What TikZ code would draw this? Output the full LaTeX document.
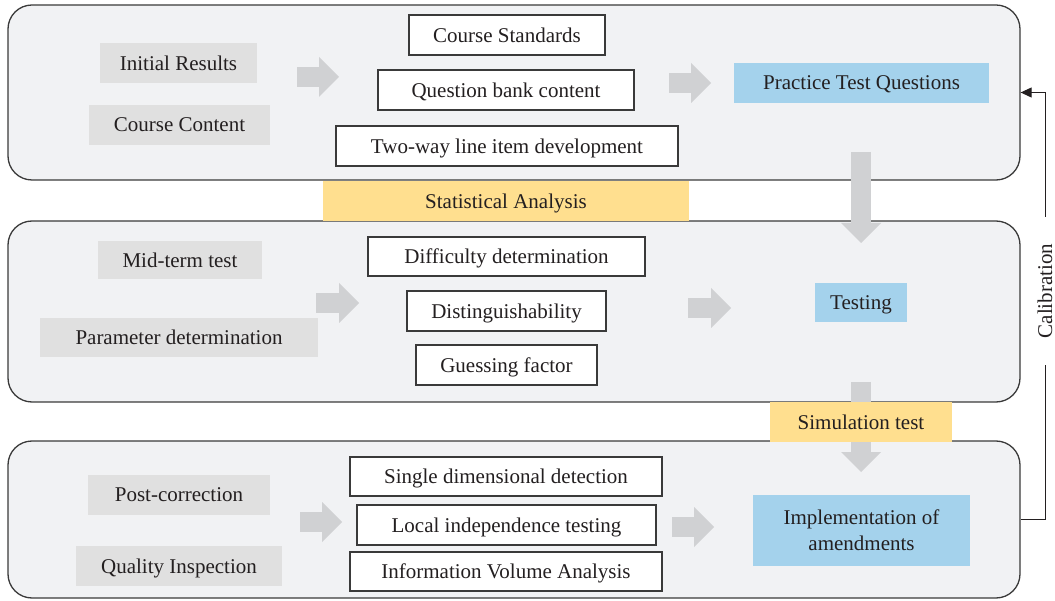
\documentclass[tikz,border=0pt]{standalone}
\usepackage{fontspec}
\setmainfont{Liberation Serif}
\usetikzlibrary{arrows.meta}
\definecolor{panelfill}{HTML}{F1F2F4}
\definecolor{panelline}{HTML}{3A3A3A}
\definecolor{graybox}{HTML}{E0E0E0}
\definecolor{bluebox}{HTML}{A4D2EC}
\definecolor{yellowbox}{HTML}{FFDF8F}
\definecolor{arrgray}{HTML}{D0D1D3}
\definecolor{textcol}{HTML}{231F20}
\tikzset{
panel/.style = {draw=panelline, fill=panelfill, line width=1.3pt, rounded corners=24pt, inner sep=0pt},
item/.style = {fill=graybox, inner sep=0pt, minimum height=40, text depth=0pt},
factor/.style = {draw=panelline, fill=white, line width=1.2pt, inner sep=0pt, minimum height=40, text depth=0pt},
stage/.style = {fill=bluebox, inner sep=0pt, minimum height=40, align=center, text depth=0pt},
phase/.style = {fill=yellowbox, inner sep=0pt, minimum height=40, text depth=0pt},
blockarr/.style = {draw=arrgray, line width=20pt, -{Triangle[length=20pt,width=40pt,line width=0pt]}},
feedback/.style = {draw=textcol, line width=1pt}
}

\begin{document}
\begin{tikzpicture}[x=1pt, y=-1pt, font=\fontsize{21}{26}\selectfont, every node/.style={text=textcol}]
  \useasboundingbox (0,0) rectangle (1055,601);

  \node [panel, minimum width=1012, minimum height=175]  (pan1)   at (514,92.5)   {};
  \node [panel, minimum width=1012, minimum height=181]  (pan2)   at (514,311.5)  {};
  \node [panel, minimum width=1012, minimum height=157]  (pan3)   at (514,519.5)  {};

  \coordinate (d1a) at (861,152);
  \coordinate (d1b) at (861,243);
  \coordinate (d2a) at (861,382);
  \coordinate (d2b) at (861,472);
  \draw [blockarr] (d1a) -- (d1b);
  \draw [blockarr] (d2a) -- (d2b);

  \node [phase, minimum width=366]                       (stat)   at (506,201)    {Statistical Analysis};
  \node [phase, minimum width=182]                       (sim)    at (861,422)    {Simulation test};

  \node [item, minimum width=157]                        (ires)   at (178.5,63)   {Initial Results};
  \node [item, minimum width=181]                        (ccont)  at (179.5,125)  {Course Content};
  \node [item, minimum width=164, minimum height=38]     (midt)   at (180,260)    {Mid-term test};
  \node [item, minimum width=278, minimum height=39]     (pardet) at (179,337.5)  {Parameter determination};
  \node [item, minimum width=182]                        (postc)  at (179,495)    {Post-correction};
  \node [item, minimum width=206]                        (qinsp)  at (179,566)    {Quality Inspection};

  \node [factor, minimum width=196]                      (cstd)   at (507,35)     {Course Standards};
  \node [factor, minimum width=256]                      (qbank)  at (506,90)     {Question bank content};
  \node [factor, minimum width=342]                      (twoway) at (507,146)    {Two-way line item development};
  \node [factor, minimum width=277, minimum height=39]   (diff)   at (506.5,256.5) {Difficulty determination};
  \node [factor, minimum width=199]                      (dist)   at (506.5,311)  {Distinguishability};
  \node [factor, minimum width=181]                      (guess)  at (506.5,365)  {Guessing factor};
  \node [factor, minimum width=312, minimum height=39]   (single) at (506,476.5)  {Single dimensional detection};
  \node [factor, minimum width=299]                      (local)  at (506.5,525)  {Local independence testing};
  \node [factor, minimum width=312, minimum height=39]   (info)   at (506,571.5)  {Information Volume Analysis};

  \node [stage, minimum width=255]                       (ptq)    at (861.5,83)   {Practice Test Questions};
  \node [stage, minimum width=92, minimum height=39]     (test)   at (861,302.5)  {Testing};
  \node [stage, minimum width=217, minimum height=71]    (impl)   at (861.5,530.5) {Implementation of\\amendments};

  \coordinate (r1a) at (297,77);
  \coordinate (r1b) at (339,77);
  \coordinate (r2a) at (669,83);
  \coordinate (r2b) at (711,83);
  \coordinate (r3a) at (316,303);
  \coordinate (r3b) at (359,303);
  \coordinate (r4a) at (688,308);
  \coordinate (r4b) at (731,308);
  \coordinate (r5a) at (300,522);
  \coordinate (r5b) at (342,522);
  \coordinate (r6a) at (672,527);
  \coordinate (r6b) at (714,527);
  \draw [blockarr] (r1a) -- (r1b);
  \draw [blockarr] (r2a) -- (r2b);
  \draw [blockarr] (r3a) -- (r3b);
  \draw [blockarr] (r4a) -- (r4b);
  \draw [blockarr] (r5a) -- (r5b);
  \draw [blockarr] (r6a) -- (r6b);

  \node [rotate=90, inner sep=0pt, minimum width=148]    (calib)  at (1045,291)   {Calibration};
  \draw [feedback] (pan3.east) -| (calib.west);
  \draw [feedback, -{Triangle[length=11pt,width=10pt]}] (calib.east) |- (pan1.east);
\end{tikzpicture}
\end{document}
